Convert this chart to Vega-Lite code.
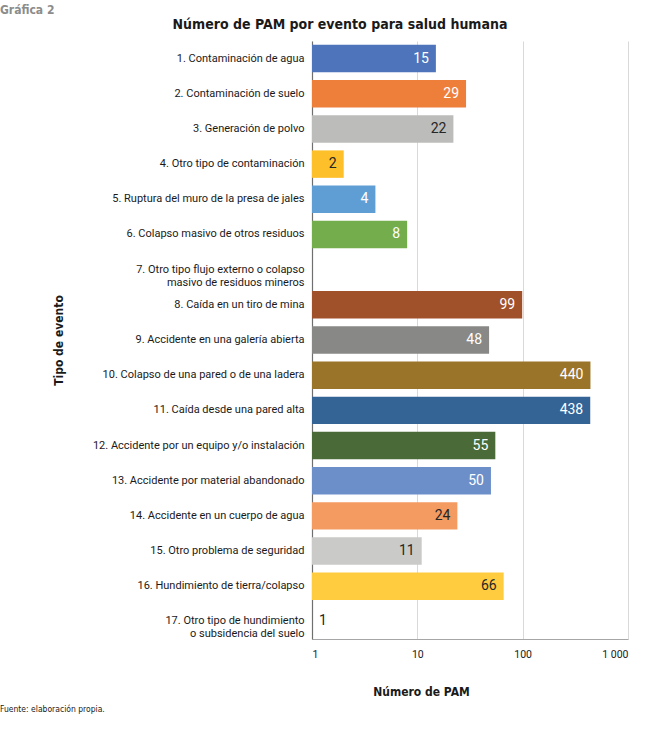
{
  "$schema": "https://vega.github.io/schema/vega-lite/v6.json",
  "background": "white",
  "padding": {"left": 0, "top": 4, "right": 5, "bottom": 5},
  "config": {
    "font": "Roboto",
    "view": {"stroke": null},
    "concat": {"spacing": 0}
  },
  "title": {
    "text": "Gráfica 2",
    "anchor": "start",
    "frame": "bounds",
    "font": "DejaVu Sans Condensed",
    "fontSize": 12,
    "fontWeight": "bold",
    "color": "#8c8c8c",
    "offset": 1
  },
  "vconcat": [
    {
      "title": {
        "text": "Fuente: elaboración propia.",
        "orient": "bottom",
        "anchor": "start",
        "frame": "bounds",
        "font": "DejaVu Sans Condensed",
        "fontSize": 8.5,
        "fontWeight": "normal",
        "color": "#1a1a1a",
        "dx": -52,
        "offset": 8
      },
      "vconcat": [
        {
          "width": 316,
          "height": 598,
          "title": {
            "text": "Número de PAM por evento para salud humana",
            "anchor": "middle",
            "frame": "bounds",
            "font": "DejaVu Sans Condensed",
            "fontSize": 14,
            "fontWeight": "bold",
            "color": "#1a1a1a",
            "offset": 9
          },
          "data": {
            "values": [
              {"n": 1, "evento": "1. Contaminación de agua", "pam": 15},
              {"n": 2, "evento": "2. Contaminación de suelo", "pam": 29},
              {"n": 3, "evento": "3. Generación de polvo", "pam": 22},
              {"n": 4, "evento": "4. Otro tipo de contaminación", "pam": 2},
              {"n": 5, "evento": "5. Ruptura del muro de la presa de jales", "pam": 4},
              {"n": 6, "evento": "6. Colapso masivo de otros residuos", "pam": 8},
              {"n": 7, "evento": "7. Otro tipo flujo externo o colapso|masivo de residuos mineros", "pam": null},
              {"n": 8, "evento": "8. Caída en un tiro de mina", "pam": 99},
              {"n": 9, "evento": "9. Accidente en una galería abierta", "pam": 48},
              {"n": 10, "evento": "10. Colapso de una pared o de una ladera", "pam": 440},
              {"n": 11, "evento": "11. Caída desde una pared alta", "pam": 438},
              {"n": 12, "evento": "12. Accidente por un equipo y/o instalación", "pam": 55},
              {"n": 13, "evento": "13. Accidente por material abandonado", "pam": 50},
              {"n": 14, "evento": "14. Accidente en un cuerpo de agua", "pam": 24},
              {"n": 15, "evento": "15. Otro problema de seguridad", "pam": 11},
              {"n": 16, "evento": "16. Hundimiento de tierra/colapso", "pam": 66},
              {"n": 17, "evento": "17. Otro tipo de hundimiento|o subsidencia del suelo", "pam": 1}
            ]
          },
          "encoding": {
            "y": {
              "field": "evento",
              "type": "nominal",
              "scale": {
                "domain": [
                  "1. Contaminación de agua",
                  "2. Contaminación de suelo",
                  "3. Generación de polvo",
                  "4. Otro tipo de contaminación",
                  "5. Ruptura del muro de la presa de jales",
                  "6. Colapso masivo de otros residuos",
                  "7. Otro tipo flujo externo o colapso|masivo de residuos mineros",
                  "8. Caída en un tiro de mina",
                  "9. Accidente en una galería abierta",
                  "10. Colapso de una pared o de una ladera",
                  "11. Caída desde una pared alta",
                  "12. Accidente por un equipo y/o instalación",
                  "13. Accidente por material abandonado",
                  "14. Accidente en un cuerpo de agua",
                  "15. Otro problema de seguridad",
                  "16. Hundimiento de tierra/colapso",
                  "17. Otro tipo de hundimiento|o subsidencia del suelo"
                ],
                "paddingInner": 0.22,
                "paddingOuter": 0.11
              },
              "axis": {
                "title": "Tipo de evento",
                "titleFont": "DejaVu Sans Condensed",
                "titleFontSize": 12,
                "titleFontWeight": "bold",
                "titleColor": "#1a1a1a",
                "titlePadding": 47,
                "labelFontSize": 11,
                "labelColor": "#1a1a1a",
                "labelPadding": 8,
                "labelLimit": 300,
                "labelLineHeight": 13,
                "labelExpr": "split(datum.label, '|')",
                "ticks": false,
                "domainColor": "#6f6f6f",
                "domainWidth": 1.2
              }
            },
            "x": {
              "field": "pam",
              "type": "quantitative",
              "scale": {"type": "log", "domain": [1, 1000]},
              "axis": {
                "values": [1, 10, 100, 1000],
                "labelExpr": "datum.value == 1000 ? '1 000' : datum.label",
                "title": "Número de PAM",
                "titleFont": "DejaVu Sans Condensed",
                "titleFontSize": 12,
                "titleFontWeight": "bold",
                "titleColor": "#1a1a1a",
                "titleX": 109,
                "titleY": 52,
                "titleAlign": "center",
                "titleBaseline": "middle",
                "ticks": false,
                "labelPadding": 10,
                "labelFontSize": 10.5,
                "labelColor": "#1a1a1a",
                "gridColor": "#d9d9d9",
                "domainColor": "#a6a6a6"
              }
            }
          },
          "layer": [
            {
              "mark": {"type": "bar"},
              "encoding": {
                "x2": {"datum": 1},
                "color": {
                  "field": "evento",
                  "type": "nominal",
                  "legend": null,
                  "scale": {
                    "domain": [
                      "1. Contaminación de agua",
                      "2. Contaminación de suelo",
                      "3. Generación de polvo",
                      "4. Otro tipo de contaminación",
                      "5. Ruptura del muro de la presa de jales",
                      "6. Colapso masivo de otros residuos",
                      "7. Otro tipo flujo externo o colapso|masivo de residuos mineros",
                      "8. Caída en un tiro de mina",
                      "9. Accidente en una galería abierta",
                      "10. Colapso de una pared o de una ladera",
                      "11. Caída desde una pared alta",
                      "12. Accidente por un equipo y/o instalación",
                      "13. Accidente por material abandonado",
                      "14. Accidente en un cuerpo de agua",
                      "15. Otro problema de seguridad",
                      "16. Hundimiento de tierra/colapso",
                      "17. Otro tipo de hundimiento|o subsidencia del suelo"
                    ],
                    "range": [
                      "#4e74bb", "#ee7f3a", "#bcbcbb", "#fdc02a", "#5f9ed5", "#74ae4c",
                      "#7cafdd", "#a0512a", "#888887", "#9a7428", "#346496", "#4a6b37",
                      "#6d8fc9", "#f39b61", "#cacac9", "#ffcc3f", "#7cafdd"
                    ]
                  }
                }
              }
            },
            {
              "transform": [{"filter": "datum.pam > 1"}],
              "mark": {"type": "text", "align": "right", "baseline": "middle", "dx": -7, "fontSize": 14},
              "encoding": {
                "text": {"field": "pam", "type": "quantitative"},
                "color": {
                  "condition": {"test": {"field": "n", "oneOf": [3, 4, 14, 15, 16]}, "value": "#262626"},
                  "value": "#ffffff"
                }
              }
            },
            {
              "transform": [{"filter": "datum.pam == 1"}],
              "mark": {"type": "text", "align": "left", "baseline": "middle", "dx": 7, "fontSize": 14, "color": "#262626"},
              "encoding": {
                "text": {"field": "pam", "type": "quantitative"}
              }
            }
          ]
        }
      ]
    }
  ]
}
